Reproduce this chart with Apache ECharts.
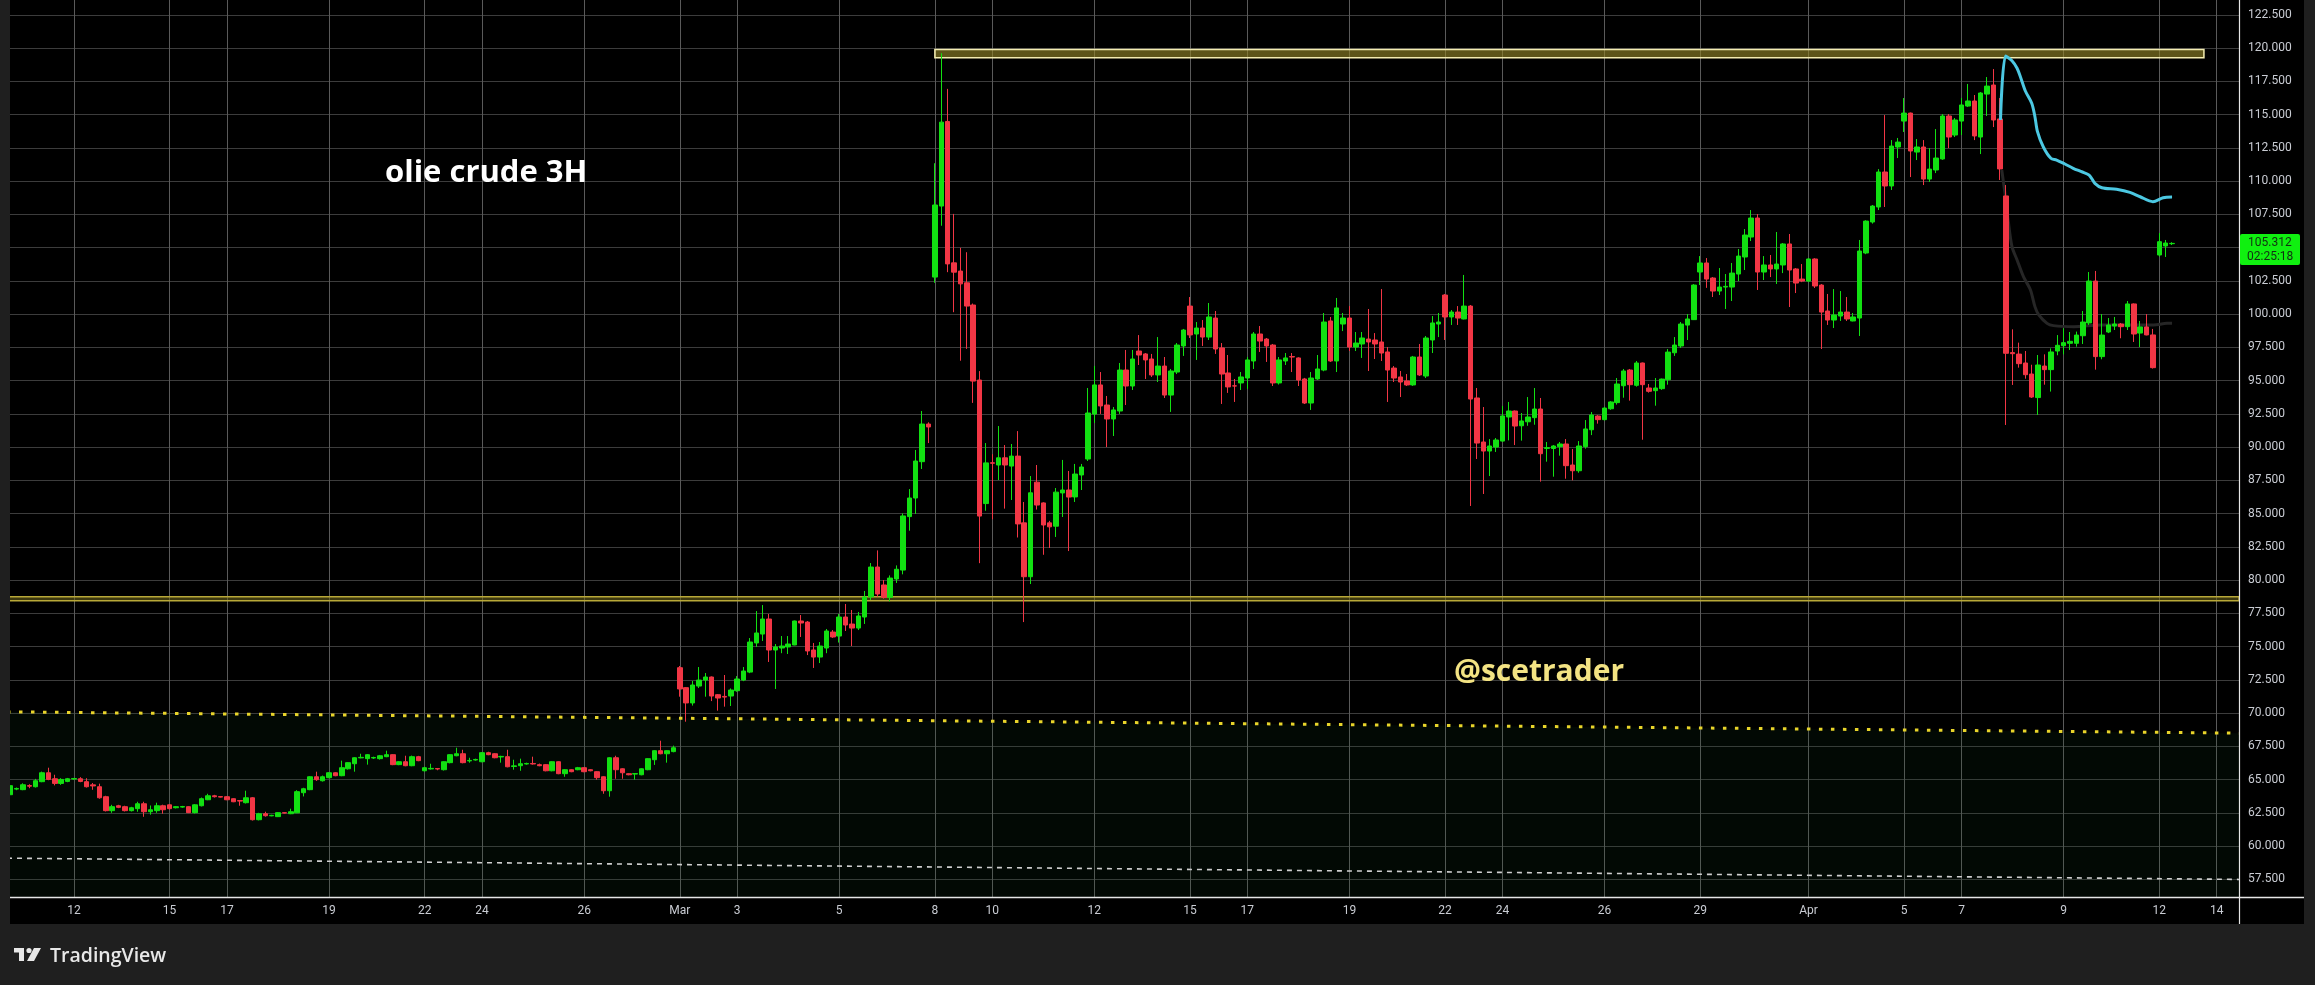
<!DOCTYPE html>
<html><head><meta charset="utf-8">
<script src="https://cdn.jsdelivr.net/npm/echarts@6/dist/echarts.min.js"></script>
<style>html,body{margin:0;padding:0;background:#000;overflow:hidden}#c{width:2315px;height:985px}</style>
</head><body><div id="c"></div>
<script>
// ---------------- DATA ----------------
const slotCount = 350;
const tickIndex  = [10,25,34,50,65,74,90,105,114,130,145,154,170,185,194,210,225,234,250,265,282,297,306,322,337,346];
const tickLabels = ['12','15','17','19','22','24','26','Mar','3','5','8','10','12','15','17','19','22','24','26','29','Apr','5','7','9','12','14'];
const priceTicks = {min:57.5, max:122.5, step:2.5};
// candles: [open, close, low, high]
const candles = [
[63.86,64.54,63.75,64.6],[64.28,64.33,64.2,64.4],[64.24,64.61,64.2,64.72],[64.55,64.5,64.35,64.65],[64.46,64.91,64.4,65.05],
[64.84,65.51,64.8,65.6],[65.51,65.01,64.95,65.89],[65.06,64.71,64.56,65.36],[64.71,65.01,64.6,65.1],[64.86,65.06,64.8,65.12],
[65.04,65.08,64.98,65.12],[65.06,64.86,64.8,65.18],[64.84,64.46,64.4,65.1],[64.6,64.52,64.23,64.74],[64.46,63.63,63.56,64.69],
[63.71,62.66,62.6,63.78],[62.66,62.96,62.5,63.1],[63.03,62.91,62.85,63.1],[62.96,62.66,62.6,63.03],[62.66,62.88,62.6,62.95],
[62.81,63.18,62.58,63.33],[63.18,62.58,62.2,63.33],[62.58,62.73,62.36,63.05],[62.66,63.03,62.5,63.26],[63.03,62.73,62.43,63.11],
[63.1,62.81,62.75,63.15],[62.88,62.96,62.83,63.0],[62.93,62.97,62.88,63.02],[62.96,62.51,62.48,63.0],[62.51,63.1,62.45,63.15],
[63.03,63.56,62.98,63.65],[63.48,63.78,63.45,63.93],[63.78,63.71,63.65,63.85],[63.72,63.68,63.65,63.75],[63.71,63.48,63.45,63.75],
[63.56,63.33,63.3,63.6],[63.42,63.38,63.03,63.45],[63.26,63.63,63.2,64.16],[63.63,61.98,61.92,63.68],[61.98,62.43,61.93,62.5],
[62.43,62.28,62.21,62.58],[62.27,62.31,62.24,62.35],[62.21,62.51,62.18,62.55],[62.51,62.48,62.45,62.55],[62.43,62.58,62.4,62.81],
[62.5,64.09,62.48,64.2],[64.01,64.31,63.73,64.38],[64.24,65.21,64.2,65.25],[65.21,64.99,64.9,65.59],[64.91,65.21,64.85,65.3],
[65.14,65.51,65.1,65.55],[65.51,65.29,65.25,65.55],[65.29,65.89,65.25,66.42],[65.81,66.27,65.75,66.3],[66.19,66.64,65.59,66.68],
[66.63,66.67,66.6,66.94],[66.57,66.87,66.12,66.92],[66.62,66.66,66.55,66.72],[66.57,66.79,66.5,66.85],[66.72,66.87,66.68,67.17],
[66.87,66.12,66.08,66.9],[66.12,66.34,66.08,66.38],[66.34,66.04,66.0,66.79],[66.04,66.72,66.0,66.8],[66.72,66.42,66.38,66.78],
[65.66,65.89,65.6,65.95],[65.8,65.84,65.75,66.19],[65.83,65.79,65.7,65.87],[65.74,66.34,65.68,66.38],[66.27,66.87,66.22,66.9],
[66.79,66.94,66.75,67.39],[66.94,66.27,66.22,67.24],[66.4,66.44,66.27,66.64],[66.47,66.51,66.42,66.57],[66.34,67.02,66.3,67.06],
[67.02,66.87,66.83,67.09],[66.94,66.64,66.6,66.98],[66.7,66.74,66.27,66.79],[66.72,65.96,65.92,67.24],[65.98,66.03,65.74,66.49],
[66.04,66.19,65.66,66.57],[66.17,66.21,66.12,66.27],[66.21,66.17,66.12,66.72],[66.12,66.04,66.0,66.2],[66.12,65.66,65.62,66.16],
[65.66,66.34,65.62,66.38],[66.34,65.44,65.4,66.38],[65.44,65.74,65.21,65.78],[65.74,65.59,65.55,65.78],[65.74,65.89,65.7,65.95],
[65.89,65.59,65.55,65.93],[65.74,65.66,65.62,65.78],[65.59,65.14,64.99,65.63],[65.21,64.16,63.93,65.25],[64.16,66.64,63.71,66.68],
[66.64,65.74,65.06,66.79],[65.81,65.51,65.06,65.85],[65.44,65.36,65.32,65.48],[65.41,65.45,64.99,65.48],[65.36,65.81,65.32,65.85],
[65.74,66.57,65.7,66.6],[66.49,67.17,66.1,67.2],[67.17,66.94,66.9,67.92],[66.94,67.17,66.27,67.2],[67.1,67.39,67.05,67.55],
[73.41,71.81,71.23,73.54],[71.91,70.76,69.35,71.95],[70.76,72.11,70.56,72.41],[72.03,72.48,71.88,73.46],[72.48,72.71,71.23,73.01],
[72.71,71.28,70.9,72.75],[71.38,71.13,70.18,71.43],[71.25,71.2,70.48,72.86],[71.28,71.73,70.53,71.85],[71.68,72.56,71.6,72.78],
[72.48,73.16,72.4,73.46],[73.08,75.34,73.0,75.64],[75.27,76.02,74.97,77.67],[75.94,77.07,75.42,78.12],[77.07,74.74,73.84,77.45],
[74.74,74.97,71.81,75.19],[74.89,75.04,74.5,75.79],[74.97,75.19,74.44,75.79],[75.12,76.92,75.1,76.95],[76.92,76.77,75.72,77.37],
[76.84,74.67,74.36,76.92],[74.74,74.21,73.39,75.27],[74.21,75.04,73.76,75.34],[74.89,76.17,74.5,76.32],[76.09,75.72,75.65,76.24],
[75.79,77.22,75.3,77.45],[77.22,76.62,76.17,78.2],[76.69,76.39,75.04,77.75],[76.39,77.3,76.24,77.6],[77.22,78.73,76.7,79.18],
[78.73,80.98,78.5,81.28],[80.98,78.95,78.73,82.23],[79.63,78.7,78.6,80.0],[78.7,80.15,78.4,80.35],[80.08,80.81,79.78,81.1],
[80.75,84.82,80.43,85.01],[84.77,86.17,83.71,86.84],[86.17,88.95,84.97,89.78],[88.9,91.73,88.35,92.71],[91.73,91.51,90.3,91.86],
[102.78,108.2,102.35,111.34],[108.12,114.43,106.64,119.61],[114.48,103.77,103.15,116.93],[103.85,103.15,100.14,107.53],[103.23,102.27,96.49,104.98],
[102.35,100.6,97.38,104.65],[100.68,94.96,93.32,100.79],[95.04,84.81,81.27,95.71],[85.75,88.81,85.21,90.3],[88.82,88.78,84.57,89.46],
[88.65,89.19,87.52,91.58],[89.19,88.65,85.37,90.15],[88.57,89.32,86.02,90.23],[89.32,84.22,83.2,91.2],[84.3,80.25,76.84,85.87],
[80.25,86.56,79.7,87.82],[87.36,85.64,85.3,88.65],[85.8,84.14,81.9,85.85],[84.3,84.0,82.41,84.45],[84.05,86.61,83.24,86.92],
[86.55,86.77,84.74,89.03],[86.77,86.24,82.18,88.2],[86.25,87.97,85.87,88.73],[87.9,88.5,86.77,88.73],[89.1,92.56,88.95,94.44],
[92.48,94.67,91.81,96.1],[94.67,93.09,92.49,95.64],[93.16,92.11,90.0,93.84],[92.11,92.79,90.83,93.01],[92.71,95.79,92.49,96.32],
[95.79,94.59,93.16,97.3],[94.59,96.62,94.29,97.3],[97.22,96.92,96.17,98.42],[97.0,96.55,95.12,97.07],[96.62,95.42,95.27,97.0],
[95.42,96.09,94.89,98.27],[96.09,93.91,93.69,96.77],[93.91,95.72,92.64,95.87],[95.64,97.67,95.49,97.82],[97.6,98.8,96.85,98.88],
[100.6,98.43,98.2,101.28],[98.5,98.95,96.55,99.4],[98.95,98.27,97.6,99.55],[98.27,99.78,98.05,100.83],[99.7,97.37,97.0,100.23],
[97.45,95.49,93.24,97.82],[95.57,94.52,94.07,96.92],[94.6,94.59,93.39,95.12],[94.82,95.27,94.29,95.64],[95.19,96.55,94.37,96.77],
[96.47,98.5,95.87,98.65],[98.5,97.97,97.15,99.1],[98.12,97.6,96.4,98.2],[97.67,94.82,94.59,97.75],[94.82,96.55,94.7,96.77],
[96.47,96.7,96.17,97.07],[96.8,96.77,95.64,97.07],[96.7,95.04,94.59,96.75],[95.12,93.31,93.24,95.2],[93.31,95.19,92.79,95.64],
[95.12,95.87,95.05,96.92],[95.79,99.4,95.7,100.08],[99.48,96.47,96.4,99.78],[96.47,100.46,95.64,101.21],[99.25,99.7,98.72,100.08],
[99.7,97.52,97.22,100.6],[97.52,97.82,97.22,98.65],[97.75,98.2,96.7,98.65],[98.12,97.9,95.72,100.38],[98.05,97.75,96.62,98.57],
[97.9,97.07,96.47,101.88],[97.15,95.79,93.39,97.52],[95.94,95.19,94.89,96.09],[95.27,94.89,93.76,95.72],[94.97,94.67,94.59,95.49],
[94.67,96.77,94.6,96.85],[96.77,95.42,95.35,97.75],[95.34,98.2,95.19,98.35],[98.05,99.33,97.07,99.85],[99.25,99.4,98.27,100.08],
[101.43,99.78,98.05,101.5],[99.78,100.15,99.18,100.3],[100.15,99.7,99.18,100.6],[99.63,100.6,99.6,102.94],[100.6,93.61,85.57,100.68],
[93.69,90.3,89.1,94.44],[90.38,89.7,86.47,93.01],[89.7,90.08,87.82,90.6],[90.0,90.53,89.63,90.68],[90.45,92.34,90.4,93.09],
[92.26,92.71,90.5,93.39],[92.71,91.58,90.15,92.75],[91.6,91.96,90.48,92.56],[91.9,92.26,91.6,93.76],[92.21,92.86,91.68,94.44],
[92.86,89.5,87.4,93.69],[89.9,89.95,88.9,90.38],[89.89,90.08,87.77,90.15],[90.03,90.23,89.35,90.38],[90.23,88.6,87.62,90.6],
[88.65,88.22,87.5,89.85],[88.22,90.08,88.07,90.45],[90.03,91.36,89.88,92.03],[91.3,92.41,90.9,92.63],[92.33,92.06,91.76,92.4],
[92.06,92.93,92.0,93.01],[92.88,93.39,92.8,93.45],[93.34,94.74,93.19,95.19],[94.61,95.72,93.71,95.87],[95.79,94.69,93.49,95.87],
[94.64,96.32,94.54,96.47],[96.32,94.69,90.55,96.35],[94.44,94.19,94.09,94.74],[94.24,94.44,93.11,95.19],[94.39,95.11,94.3,95.15],
[95.06,97.14,94.69,97.37],[97.09,97.67,96.85,98.27],[97.6,99.25,97.45,99.4],[99.17,99.63,98.05,100.0],[99.58,102.18,99.55,102.25],
[103.16,103.84,102.18,104.36],[103.84,102.63,101.97,104.21],[102.71,101.73,101.28,102.78],[101.73,102.03,101.43,103.46],[102.03,102.08,100.38,103.01],
[102.03,103.08,100.98,103.84],[103.01,104.36,102.48,104.89],[104.29,105.94,103.31,106.39],[105.79,107.22,105.49,107.82],[107.22,103.16,101.81,107.52],
[103.16,103.69,102.56,104.36],[103.69,103.39,102.78,104.44],[103.39,103.76,102.26,106.17],[103.69,105.27,103.08,105.34],[105.27,103.31,100.53,106.02],
[103.39,102.33,101.58,103.46],[102.63,102.48,102.4,103.76],[102.48,104.14,102.4,104.2],[104.14,102.11,101.96,104.2],[102.18,100.15,97.37,102.25],
[100.23,99.55,99.18,101.51],[99.55,99.93,98.95,101.88],[99.85,100.15,99.48,101.73],[100.15,99.63,99.48,101.28],[99.48,99.78,99.45,100.08],
[99.7,104.74,98.35,105.57],[104.59,106.99,104.5,107.05],[106.92,108.12,106.8,108.2],[108.05,110.68,107.82,110.9],[110.68,109.63,108.05,114.96],
[109.63,112.63,109.33,113.08],[112.56,112.93,111.73,113.24],[114.51,115.11,113.69,116.24],[115.11,112.26,110.3,115.15],[112.18,112.56,111.58,113.16],
[112.56,110.15,109.7,113.08],[110.15,110.9,109.93,112.48],[110.83,111.73,110.6,113.91],[111.66,114.89,111.6,115.04],[114.89,113.31,112.48,115.04],
[113.46,114.59,113.31,114.74],[114.51,115.72,113.46,116.24],[115.64,116.02,115.57,117.3],[116.02,113.39,113.08,116.47],[113.31,116.62,112.03,116.69],
[116.54,117.14,114.89,117.82],[117.22,114.59,114.06,118.42],[114.67,110.91,110.08,116.24],[108.88,97.05,91.66,109.7],[97.1,97.02,94.67,98.85],
[96.99,96.27,95.97,97.85],[96.32,95.44,95.14,97.22],[95.49,93.76,93.69,96.19],[93.72,96.17,92.41,96.92],[96.09,95.82,94.69,96.97],
[95.82,97.15,94.17,97.42],[97.22,97.65,96.9,98.42],[97.62,97.85,96.97,98.93],[97.8,97.95,97.3,98.65],[97.8,98.42,97.55,98.68],
[98.37,99.4,97.75,100.23],[99.33,102.48,99.18,103.16],[102.48,96.8,95.82,103.24],[96.8,98.42,96.6,100.0],[98.65,99.18,98.57,99.7],
[99.1,99.25,98.8,99.78],[99.25,99.05,98.18,99.33],[99.05,100.76,98.8,100.98],[100.76,98.5,97.9,100.8],[98.57,99.03,97.52,99.48],
[99.03,98.43,98.4,100.0],[98.43,95.97,95.9,98.88],[104.44,105.44,104.32,106.09],[105.12,105.34,104.29,105.57],[105.29,105.312,105.19,105.4]
];
const lastPrice = 105.312;
const countdown = '02:25:18';
// indicator lines: [slot position, price]
const cyanLine = [[312.1,114.59],[312.9,119.4],[313.9,119.05],[314.7,118.48],[315.3,117.73],[316.0,116.77],[317.0,115.85],[317.5,114.84],[317.9,113.71],[318.8,112.58],[320.0,111.71],[320.9,111.58],[322.2,111.28],[323.5,110.96],[324.8,110.7],[326.0,110.45],[326.9,109.83],[328.0,109.5],[330.3,109.38],[332.4,109.15],[334.0,108.82],[336.0,108.45],[337.6,108.75],[339.0,108.8]];
const darkLine = [[312.3,110.83],[312.8,109.08],[313.3,107.07],[313.9,105.07],[314.7,104.07],[315.7,102.81],[316.8,101.81],[317.5,100.56],[318.1,99.93],[319.4,99.3],[320.4,99.13],[323.6,99.05],[327.8,99.18],[333.0,99.18],[336.1,99.18],[338.2,99.3],[339.0,99.3]];
// drawings
const dottedTrend = [[-0.5,70.09],[349.5,68.49]];
const dashedTrend = [[-0.5,59.09],[349.5,57.49]];
const topZone = {from:145, to:344, hi:119.9, lo:119.27};
const supportZone = {hi:78.75, lo:78.45};
const yMain = {min:56.169, max:123.613};

// ---------------- CHART ----------------
const slots = Array.from({length: slotCount}, (_, i) => String(i));
const labelAt = {};
tickIndex.forEach((k, j) => { labelAt[k] = tickLabels[j]; });
const isTick = (idx) => labelAt[idx] !== undefined;

const GREEN = '#12e012', RED = '#f23645', TXT = '#c9ccd3';
const chart = echarts.init(document.getElementById('c'), null, {renderer: 'canvas'});
const L = 7, R = 76, TOP = 0, BOT = 88;
// second grid only carries the price scale; its edges sit on the 122.5 / 57.5 levels of the main scale
const pxPerUnit = (985 - TOP - BOT) / (yMain.max - yMain.min);
const g2Top = TOP + (yMain.max - priceTicks.max) * pxPerUnit;
const g2Bot = BOT + (priceTicks.min - yMain.min) * pxPerUnit;
chart.setOption({
  animation: false,
  backgroundColor: '#000',
  grid: [
    {left: L, right: R, top: TOP, bottom: BOT, containLabel: false},
    {left: L, right: R, top: g2Top, bottom: g2Bot, containLabel: false}
  ],
  xAxis: [
    {type: 'category', gridIndex: 0, data: slots, boundaryGap: true,
     axisLine: {show: false}, axisTick: {show: false},
     axisLabel: {interval: (i) => isTick(i), formatter: (v, i) => labelAt[i] || '',
                 color: TXT, fontSize: 12, fontFamily: 'Roboto', margin: 8},
     splitLine: {show: true, interval: (i) => isTick(i), alignWithLabel: true,
                 lineStyle: {color: '#5a5a5a', width: 1}}},
    {type: 'value', gridIndex: 0, min: -0.5, max: slotCount - 0.5, show: false},
    {type: 'value', gridIndex: 1, min: 0, max: 1, show: false}
  ],
  yAxis: [
    {type: 'value', gridIndex: 0, position: 'right', min: yMain.min, max: yMain.max, show: false},
    {type: 'value', gridIndex: 1, position: 'right', min: priceTicks.min, max: priceTicks.max, interval: priceTicks.step,
     axisLine: {show: false}, axisTick: {show: false},
     axisLabel: {color: TXT, fontSize: 12, fontFamily: 'Roboto', margin: 9, formatter: (v) => v.toFixed(3),
                 showMinLabel: true, showMaxLabel: true},
     splitLine: {show: true, lineStyle: {color: '#3c3c3c', width: 1}}}
  ],
  series: [
    {type: 'line', name: 'channel', xAxisIndex: 1, yAxisIndex: 0, data: dottedTrend, symbol: 'none', silent: true, z: 1,
     lineStyle: {color: '#e8d42a', width: 3, type: [3.5, 8.5], cap: 'butt'},
     areaStyle: {color: 'rgba(20,75,38,0.17)', origin: 'start'},
     markArea: {silent: true, data: [
       [{yAxis: supportZone.hi, itemStyle: {color: 'rgba(110,100,25,0.55)', borderColor: '#b8a838', borderWidth: 1.5}}, {yAxis: supportZone.lo}],
       [{xAxis: topZone.from, yAxis: topZone.hi, itemStyle: {color: 'rgba(150,135,40,0.62)', borderColor: '#f3ecb0', borderWidth: 1.5}}, {xAxis: topZone.to, yAxis: topZone.lo}]
     ]}},
    {type: 'line', name: 'dashed', xAxisIndex: 1, yAxisIndex: 0, data: dashedTrend, symbol: 'none', silent: true, z: 1,
     lineStyle: {color: '#cfcfcf', width: 1.6, type: [5, 5]}},
    {type: 'line', name: 'dark', xAxisIndex: 1, yAxisIndex: 0, data: darkLine, symbol: 'none', silent: true, z: 1, smooth: 0.3,
     lineStyle: {color: '#262626', width: 3}},
    {type: 'candlestick', xAxisIndex: 0, yAxisIndex: 0, data: candles, barWidth: 5, z: 3,
     itemStyle: {color: GREEN, color0: RED, borderColor: GREEN, borderColor0: RED, borderWidth: 1}},
    {type: 'line', name: 'cyan', xAxisIndex: 1, yAxisIndex: 0, data: cyanLine, symbol: 'none', silent: true, z: 4, smooth: 0.3,
     lineStyle: {color: '#4cc8e2', width: 3}}
  ],
  graphic: {elements: [
    {id: 'maskL', type: 'rect', shape: {x: 0, y: 0, width: 10, height: 985}, style: {fill: '#1f1f1f'}, z: 100, silent: true},
    {id: 'maskR', type: 'rect', shape: {x: 2304, y: 0, width: 11, height: 985}, style: {fill: '#1f1f1f'}, z: 100, silent: true},
    {id: 'maskB', type: 'rect', shape: {x: 0, y: 924, width: 2315, height: 61}, style: {fill: '#1f1f1f'}, z: 100, silent: true},
    {id: 'sepV', type: 'line', shape: {x1: 2239.5, y1: 0, x2: 2239.5, y2: 924}, style: {stroke: '#e6e6e6', lineWidth: 1.2}, z: 90, silent: true},
    {id: 'sepH', type: 'line', shape: {x1: 10, y1: 897.5, x2: 2304, y2: 897.5}, style: {stroke: '#e6e6e6', lineWidth: 1.5}, z: 90, silent: true},
    {id: 't1', type: 'text', x: 385, y: 173, style: {text: 'olie crude 3H', fill: '#ffffff', font: 'bold 31px "Open Sans"', verticalAlign: 'middle'}, z: 95},
    {id: 't2', type: 'text', x: 1454, y: 672, style: {text: '@scetrader', fill: '#f3e383', font: 'bold 30px "Open Sans"', verticalAlign: 'middle'}, z: 95},
    {id: 'tvText', type: 'text', x: 50, y: 956, style: {text: 'TradingView', fill: '#e8e8e8', font: '600 19.5px "Open Sans"', verticalAlign: 'middle'}, z: 110},
    {id: 'tvT1', type: 'rect', shape: {x: 14, y: 948, width: 10, height: 4.5}, style: {fill: '#e8e8e8'}, z: 110},
    {id: 'tvT2', type: 'rect', shape: {x: 19, y: 948, width: 5, height: 13}, style: {fill: '#e8e8e8'}, z: 110},
    {id: 'tvDot', type: 'circle', shape: {cx: 29, cy: 950.5, r: 2.6}, style: {fill: '#e8e8e8'}, z: 110},
    {id: 'tvSl', type: 'polygon', shape: {points: [[34, 948], [41, 948], [34, 961], [27, 961]]}, style: {fill: '#e8e8e8'}, z: 110}
  ]}
});
// last price tag, placed through the price scale
const py = chart.convertToPixel({xAxisIndex: 1, yAxisIndex: 0}, [0, lastPrice])[1];
chart.setOption({graphic: {elements: [
  {id: 'tagBox', type: 'rect', shape: {x: 2240, y: py - 9.5, width: 60, height: 31, r: 2}, style: {fill: '#10f010'}, z: 96},
  {id: 'tagP', type: 'text', x: 2248, y: py, style: {text: lastPrice.toFixed(3), fill: '#123012', font: '12px Roboto', verticalAlign: 'middle'}, z: 97},
  {id: 'tagT', type: 'text', x: 2247, y: py + 13.5, style: {text: countdown, fill: '#123012', font: '12px Roboto', verticalAlign: 'middle'}, z: 97}
]}});
</script></body></html>
